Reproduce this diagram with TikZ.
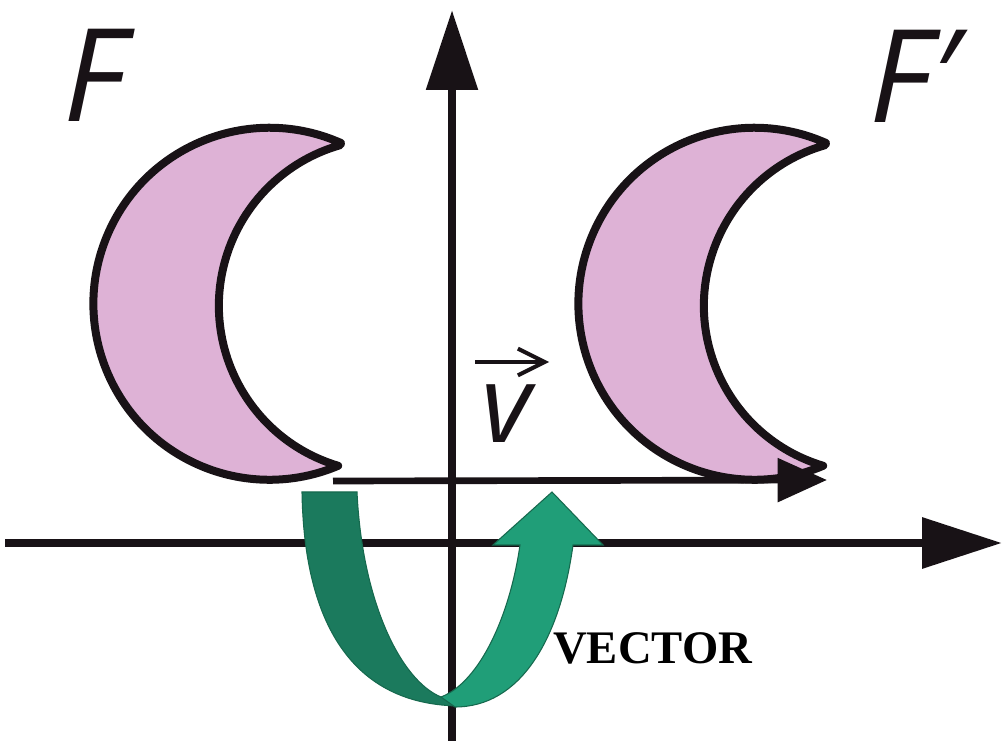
\documentclass[tikz,border=0pt]{standalone}
\usepackage{fontspec}
\newfontfamily\labfont{Open Sans}
\newfontfamily\vecfont{Liberation Serif}
\usetikzlibrary{arrows.meta}
\definecolor{moonfill}{RGB}{222,178,214}
\definecolor{inkc}{RGB}{24,18,22}
\definecolor{gdark}{RGB}{27,122,93}
\definecolor{glight}{RGB}{32,158,120}
\definecolor{gedge}{RGB}{22,105,78}
\tikzset{
  axisline/.style={draw=inkc, line width=6.5pt},
  moon/.style={fill=moonfill, draw=inkc, line width=6pt, line join=round},
  vecline/.style={draw=inkc, line width=5pt},
  gpiece/.style={draw=gedge, line width=0.8pt, line join=miter},
  biglabel/.style={anchor=base west, inner sep=0pt, text=inkc, font=\labfont\itshape\fontsize{97}{97}\selectfont},
}
\begin{document}
\begin{tikzpicture}[x=0.75pt,y=-0.75pt]
\useasboundingbox (0,0) rectangle (1004,741);
% axes
\coordinate (xs) at (5,543);
\coordinate (xe) at (1002,543);
\coordinate (ys) at (452,745);
\coordinate (ye) at (452,10);
\draw[axisline, -{Triangle[length=60pt,width=37pt]}] (xs) -- (xe);
\draw[axisline, -{Triangle[length=60pt,width=37.5pt]}] (ys) -- (ye);
% crescents
\path[moon] (341,143) arc[start angle=-66,end angle=-293,radius=176]
   arc[start angle=106.6,end angle=254.2,radius=167] -- cycle;
\path[moon] (826,143) arc[start angle=-66,end angle=-293,radius=176]
   arc[start angle=106.6,end angle=254.2,radius=167] -- cycle;
% translation vector
\coordinate (va) at (333,481);
\coordinate (vb) at (827,480);
\draw[vecline, -{Triangle[length=37pt,width=32pt]}] (va) -- (vb);
% green U arrow
\path[gpiece, fill=gdark] (302,492) -- (357,492) .. controls (362,600) and (400,680) .. (441,697)
   -- (462,706) .. controls (350,706) and (304,620) .. (302,492) -- cycle;
\path[gpiece, fill=glight] (441,697) .. controls (480,682) and (510,615) .. (520,545)
   -- (493,545) -- (552,492) -- (603,545) -- (573,545)
   .. controls (560,640) and (520,707) .. (455,707) -- cycle;
% labels
\node[biglabel] (F) at (63,122) {F};
\node[biglabel] (Fp) at (869,123) {F′};
\node[anchor=base west, inner sep=0pt, text=inkc, font=\labfont\itshape\fontsize{81}{81}\selectfont] (v) at (481,443) {v};
\coordinate (vs) at (475,362);
\coordinate (ve) at (549,362);
\draw[draw=inkc, line width=3pt, -{Straight Barb[length=20pt,width=20pt]}] (vs) -- (ve);
\node[anchor=base west, inner sep=0pt, font=\vecfont\bfseries\fontsize{35}{35}\selectfont] (vt) at (553,663) {VECTOR};
\end{tikzpicture}
\end{document}
